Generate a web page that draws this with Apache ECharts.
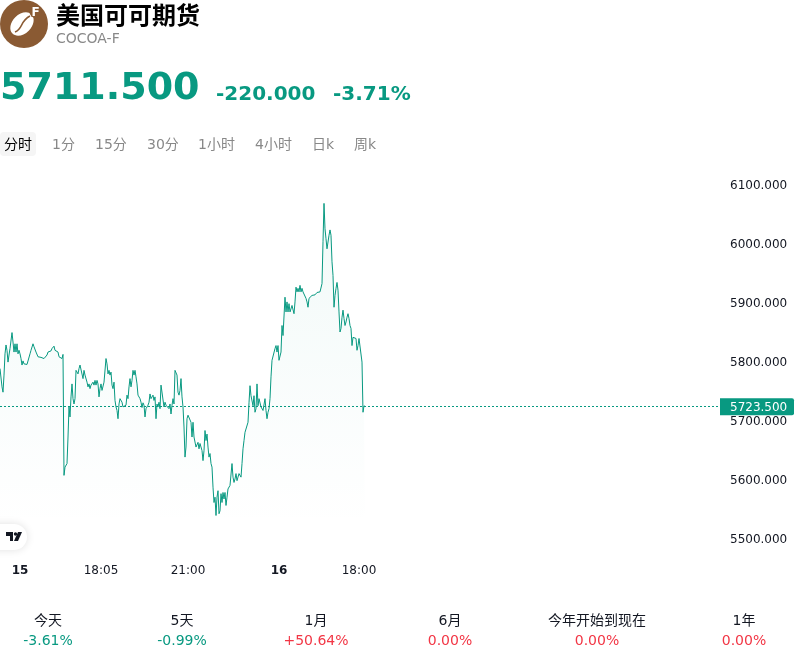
<!DOCTYPE html>
<html>
<head>
<meta charset="utf-8">
<style>html,body{margin:0;padding:0;background:#fff}#chart{width:800px;height:660px}</style>
<script src="https://cdn.jsdelivr.net/npm/echarts@6/dist/echarts.min.js"></script>
</head>
<body>
<div id="chart"></div>
<script>
// Cocoa futures intraday prices, one sample per session step
const prices = [
5788,5785,5757,5748,5777,5813,5828,5819,5799,5811,5822,5822,5849,5833,5816,5830,5816,5830,5813,5819,
5813,5805,5794,5801,5796,5799,5794,5795,5794,5796,5813,5819,5822,5830,5825,5822,5816,5813,5808,5811,
5808,5807,5808,5806,5805,5805,5807,5811,5816,5816,5816,5818,5822,5822,5826,5819,5816,5822,5816,5808,
5807,5806,5805,5812,5607,5621,5624,5627,5672,5723,5706,5740,5762,5737,5728,5737,5785,5788,5779,5788,
5794,5791,5795,5771,5785,5777,5774,5765,5757,5762,5754,5760,5757,5765,5760,5768,5760,5768,5762,5740,
5754,5762,5751,5748,5765,5768,5805,5796,5779,5785,5777,5782,5760,5754,5765,5734,5723,5717,5703,5728,
5737,5734,5731,5723,5722,5723,5726,5743,5737,5757,5771,5757,5768,5785,5777,5785,5774,5762,5743,5740,
5737,5731,5722,5730,5726,5706,5720,5723,5726,5731,5745,5737,5734,5743,5734,5740,5703,5728,5723,5731,
5720,5760,5762,5757,5723,5731,5726,5723,5728,5720,5728,5711,5726,5737,5728,5785,5784,5777,5748,5743,
5751,5771,5740,5723,5689,5638,5655,5703,5709,5706,5709,5697,5672,5697,5672,5675,5655,5652,5663,5652,
5661,5661,5649,5632,5649,5683,5666,5677,5655,5638,5644,5627,5621,5587,5561,5570,5539,5570,5581,5542,
5547,5576,5561,5578,5567,5578,5556,5570,5584,5587,5590,5593,5627,5604,5595,5601,5610,5598,5604,5610,
5607,5604,5627,5652,5666,5680,5683,5677,5697,5730,5759,5742,5745,5725,5742,5714,5720,5762,5725,5737,
5740,5723,5720,5717,5720,5737,5717,5703,5714,5720,5737,5774,5802,5805,5799,5822,5827,5816,5827,5802,
5805,5816,5861,5844,5847,5909,5884,5901,5884,5898,5884,5881,5895,5896,5881,5901,5926,5918,5924,5918,
5929,5918,5924,5918,5921,5918,5907,5901,5892,5907,5909,5909,5912,5914,5915,5913,5914,5917,5916,5918,
5918,5921,5932,6003,6068,6025,6008,5991,5989,6014,6023,6014,5969,5946,5892,5912,5924,5934,5921,5884,
5850,5856,5875,5887,5873,5861,5867,5875,5881,5873,5861,5856,5827,5841,5839,5844,5839,5819,5827,5839,
5840,5839,5799,5714,5725,5723.5
];
const lastPrice = 5723.5;

// Time axis: one slot per step, with a handful of labelled session marks
const slotCount = 721;
const tickSlots = [20, 101, 188, 279, 359];
const tickLabels = ['15', '18:05', '21:00', '16', '18:00'];
const dayLabels = ['15', '16'];

// Header and footer content
const tabs = ['分时', '1分', '15分', '30分', '1小时', '4小时', '日k', '周k'];
const tabStarts = [4, 52, 95, 147, 198, 255, 312, 354];
const rangeNames = ['今天', '5天', '1月', '6月', '今年开始到现在', '1年'];
const rangeChanges = ['-3.61%', '-0.99%', '+50.64%', '0.00%', '0.00%', '0.00%'];
const rangeCenters = [48, 182, 316, 450, 597, 744];

const FONT = '"DejaVu Sans","Noto Sans CJK SC",sans-serif';
const GREEN = '#089981';
const RED = '#f23645';
const BROWN = '#8a5a33';

const categories = [];
for (let i = 0; i < slotCount; i++) {
  const at = tickSlots.indexOf(i);
  categories.push(at >= 0 ? tickLabels[at] : '');
}

function label(x, y, text, size, fill, weight, align) {
  return {
    type: 'text', x: x, y: y, silent: true,
    style: { text: text, fill: fill, font: (weight || 'normal') + ' ' + size + 'px ' + FONT,
             align: align || 'left', verticalAlign: 'middle' }
  };
}

const graphics = [
  // Commodity badge
  { type: 'circle', shape: { cx: 24, cy: 24, r: 24 }, style: { fill: BROWN } },
  { type: 'ellipse', x: 22, y: 24, rotation: Math.PI / 4,
    shape: { cx: 0, cy: 0, rx: 13.5, ry: 9.5 }, style: { fill: '#fff' } },
  { type: 'bezierCurve',
    shape: { x1: 15, y1: 32, cpx1: 23, cpy1: 29, cpx2: 20, cpy2: 21, x2: 30, y2: 16 },
    style: { fill: 'none', stroke: BROWN, lineWidth: 1.5 } },
  { type: 'circle', shape: { cx: 35.5, cy: 12, r: 6 }, style: { fill: BROWN } },
  label(35.5, 13, 'F', 12, '#fff', 'bold', 'center'),
  label(56, 18, '美国可可期货', 24, '#000', 'bold'),
  label(56, 39, 'COCOA-F', 14, '#888'),
  label(0, 89, '5711.500', 38, GREEN, 'bold'),
  label(216, 94.5, '-220.000', 20, GREEN, 'bold'),
  label(333, 94.5, '-3.71%', 20, GREEN, 'bold'),
  { type: 'rect', shape: { x: 0, y: 132, width: 36, height: 24, r: 4 }, style: { fill: '#f5f5f5' } },
  // Attribution pill
  { type: 'rect', shape: { x: -20, y: 524, width: 47, height: 26, r: 13 },
    style: { fill: '#fff', shadowBlur: 8, shadowColor: 'rgba(0,0,0,0.12)' } },
  { type: 'polygon', shape: { points: [[6, 532], [13, 532], [13, 541], [10, 541], [10, 536], [6, 536]] },
    style: { fill: '#131722' } },
  { type: 'circle', shape: { cx: 15.5, cy: 534, r: 1.7 }, style: { fill: '#131722' } },
  { type: 'polygon', shape: { points: [[18, 532], [22, 532], [18, 541], [14, 541]] },
    style: { fill: '#131722' } }
];
tabs.forEach((t, i) => graphics.push(label(tabStarts[i], 145, t, 14, i === 0 ? '#000' : '#888')));
rangeNames.forEach((t, i) => {
  graphics.push(label(rangeCenters[i], 621, t, 14, '#131722', 'normal', 'center'));
  const c = rangeChanges[i];
  graphics.push(label(rangeCenters[i], 641, c, 14, c.charAt(0) === '-' ? GREEN : RED, 'normal', 'center'));
});

const chart = echarts.init(document.getElementById('chart'));
chart.setOption({
  animation: false,
  backgroundColor: '#fff',
  textStyle: { fontFamily: FONT },
  grid: { left: 0, top: 184.5, width: 720, bottom: 121.5, containLabel: false },
  xAxis: {
    type: 'category', data: categories, boundaryGap: false,
    axisLine: { show: false }, axisTick: { show: false }, splitLine: { show: false },
    axisLabel: {
      interval: (i) => categories[i] !== '', margin: 26, fontSize: 12, color: '#131722', hideOverlap: false,
      formatter: (v) => dayLabels.includes(v) ? '{day|' + v + '}' : v,
      rich: { day: { fontWeight: 'bold', fontSize: 12, color: '#131722', fontFamily: FONT } }
    }
  },
  yAxis: {
    type: 'value', position: 'right', min: 5500, max: 6100, interval: 100,
    axisLine: { show: false }, axisTick: { show: false }, splitLine: { show: false },
    axisLabel: {
      margin: 10, color: '#131722',
      formatter: (v) => '{v|' + v.toFixed(3) + '}',
      rich: { v: { fontSize: 12, color: '#131722', fontFamily: FONT, padding: [2, 0, 0, 0] } }
    }
  },
  series: [{
    type: 'line', data: prices, symbol: 'none', clip: false,
    lineStyle: { color: GREEN, width: 1 },
    areaStyle: {
      color: { type: 'linear', x: 0, y: 0, x2: 0, y2: 1, colorStops: [
        { offset: 0, color: 'rgba(8,153,129,0.08)' },
        { offset: 0.97, color: 'rgba(8,153,129,0)' },
        { offset: 1, color: 'rgba(8,153,129,0)' }
      ] }
    },
    markLine: {
      silent: true, symbol: 'none', animation: false,
      lineStyle: { color: GREEN, type: [2, 2], width: 1 },
      data: [{ yAxis: lastPrice }],
      label: {
        position: 'end', distance: 0, formatter: () => '{t|' + lastPrice.toFixed(3) + '}',
        backgroundColor: GREEN, borderRadius: [0, 2, 2, 0],
        padding: [2, 7, 1, 10], width: 57,
        rich: { t: { color: '#fff', fontSize: 12, fontFamily: FONT, padding: [2, 0, 0, 0] } }
      }
    }
  }],
  graphic: graphics
});
</script>
</body>
</html>
